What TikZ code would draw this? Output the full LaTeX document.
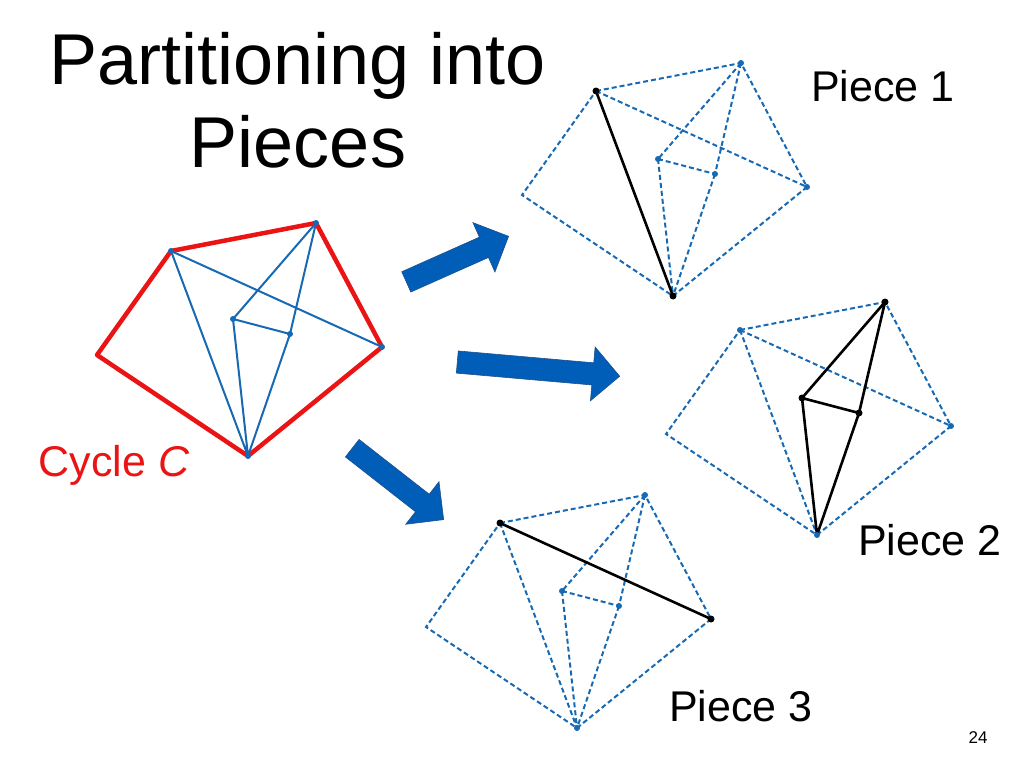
\documentclass[tikz,border=0pt]{standalone}
\usepackage{fontspec}
\setmainfont{Liberation Sans}
\usetikzlibrary{shapes.arrows}
\definecolor{eb}{RGB}{23,105,180}
\definecolor{db}{RGB}{30,80,140}
\definecolor{ab}{RGB}{0,94,184}
\definecolor{rr}{RGB}{235,20,20}
\tikzset{
 sol/.style={eb,line width=2},
 dsh/.style={eb,line width=2,dash pattern=on 5 off 3},
 blk/.style={black,line width=2.6},
 cyc/.style={rr,line width=4.5,line join=round},
 bdot/.style={circle,fill=eb,inner sep=0pt,minimum size=6},
 kdot/.style={circle,fill=black,inner sep=0pt,minimum size=7},
 barrow/.style={single arrow,fill=ab,draw=db,line width=0.6,minimum height=#1,minimum width=54,single arrow head extend=9,inner sep=6,anchor=tail},
 lbl/.style={font=\fontsize{43}{48}\selectfont,inner sep=0}
}
\newcommand\mkpiece[3]{%
 \coordinate (#1A) at (171+#2,251+#3);
 \coordinate (#1B) at (316+#2,223+#3);
 \coordinate (#1C) at (382+#2,347+#3);
 \coordinate (#1D) at (248+#2,456+#3);
 \coordinate (#1E) at (97+#2,355+#3);
 \coordinate (#1P) at (233+#2,319+#3);
 \coordinate (#1Q) at (290+#2,334+#3);}
\begin{document}
\begin{tikzpicture}[x=1pt,y=-1pt]
\useasboundingbox (0,0) rectangle (1024,768);
% main
\mkpiece{m}{0}{0}
\draw[cyc] (mA)--(mB)--(mC)--(mD)--(mE)--cycle;
\draw[sol] (mA)--(mC) (mA)--(mD) (mB)--(mP) (mB)--(mQ) (mQ)--(mD) (mP)--(mQ) (mP)--(mD);
\foreach \v in {A,B,C,D,P,Q} \node[bdot] at (m\v) {};
% piece 1
\mkpiece{a}{425}{-160}
\draw[dsh] (aA)--(aB)--(aC)--(aD)--(aE)--cycle;
\draw[dsh] (aA)--(aC) (aB)--(aP) (aB)--(aQ) (aQ)--(aD) (aP)--(aQ) (aP)--(aD);
\draw[blk] (aA)--(aD);
\foreach \v in {B,C,P,Q} \node[bdot] at (a\v) {};
\foreach \v in {A,D} \node[kdot] at (a\v) {};
% piece 2
\mkpiece{b}{569}{79}
\draw[dsh] (bA)--(bB)--(bC)--(bD)--(bE)--cycle;
\draw[dsh] (bA)--(bC) (bA)--(bD);
\draw[blk] (bB)--(bP) (bB)--(bQ) (bQ)--(bD) (bP)--(bQ) (bP)--(bD);
\foreach \v in {A,C,D} \node[bdot] at (b\v) {};
\foreach \v in {B,P,Q} \node[kdot] at (b\v) {};
% piece 3
\mkpiece{c}{329}{272}
\draw[dsh] (cA)--(cB)--(cC)--(cD)--(cE)--cycle;
\draw[dsh] (cA)--(cD) (cB)--(cP) (cB)--(cQ) (cQ)--(cD) (cP)--(cQ) (cP)--(cD);
\draw[blk] (cA)--(cC);
\foreach \v in {A,B,D,P,Q} \node[bdot] at (c\v) {};
\foreach \v in {A,C} \node[kdot] at (c\v) {};
% arrows
\node[barrow=112,rotate=24] (ar1) at (406,282) {};
\node[barrow=163,rotate=-5] (ar2) at (457,362) {};
\node[barrow=116,rotate=-38] (ar3) at (352,448) {};
% text
\node[font=\fontsize{72}{83}\selectfont,align=center,inner sep=0] (title) at (298,100) {Partitioning into\\Pieces};
\node[lbl] (l1) at (883,86) {Piece 1};
\node[lbl] (l2) at (930,540) {Piece 2};
\node[lbl] (l3) at (741,706) {Piece 3};
\node[lbl,text=rr] (lc) at (114,465) {Cycle \textit{C}};
\node[font=\fontsize{17}{19}\selectfont] (pg) at (978,738) {24};
\end{tikzpicture}
\end{document}
